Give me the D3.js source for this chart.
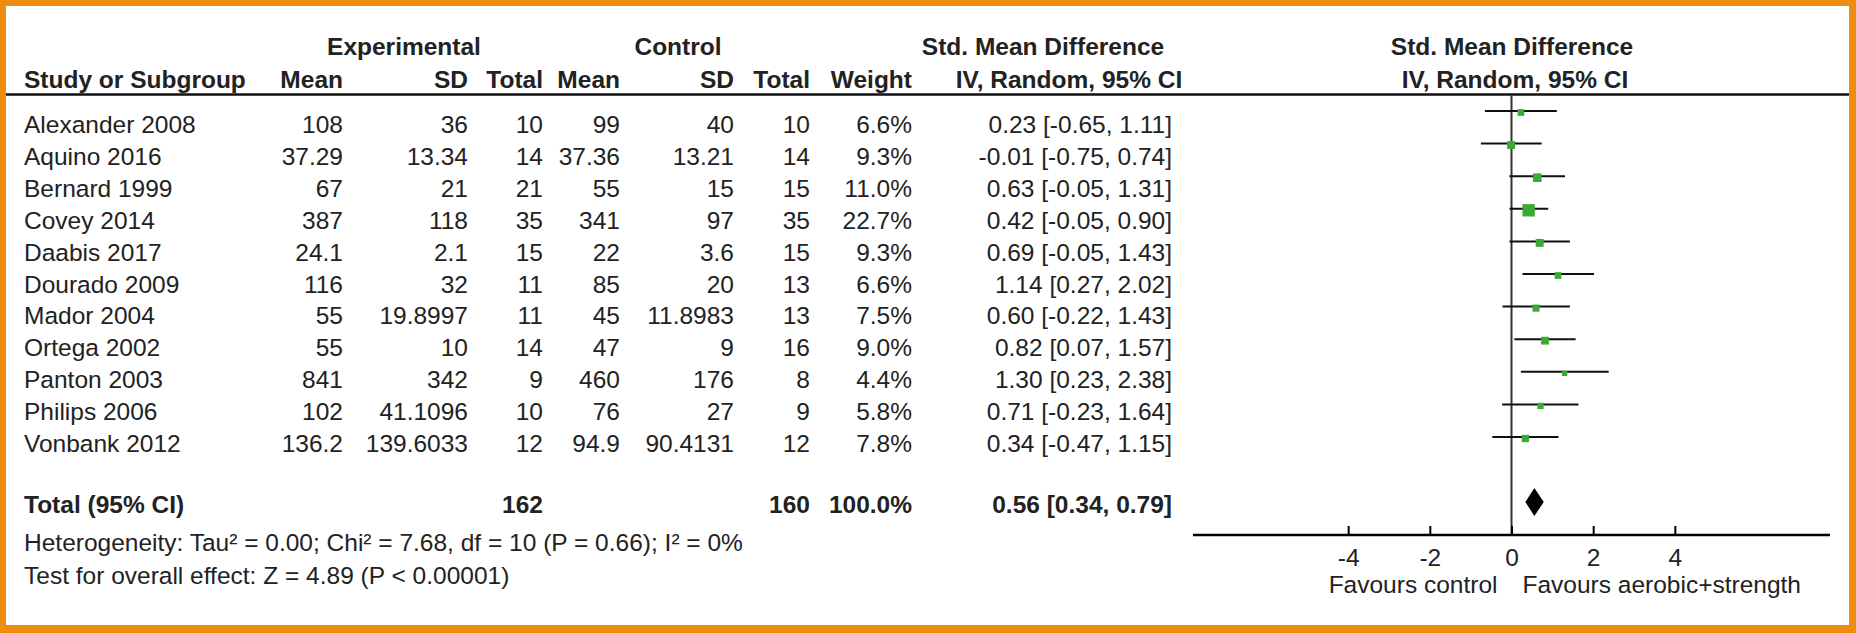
<!DOCTYPE html>
<html lang="en">
<head>
  <meta charset="UTF-8" />
  <title>Forest Plot</title>
  <script src="https://d3js.org/d3.v7.min.js"></script>
  <style>
    body { margin: 0; background: #fff; }
    svg text { font-family: "Liberation Sans", Arial, sans-serif; fill: #222; }
  </style>
</head>
<body>
  <svg id="chart" width="1856" height="633"></svg>

  <script>
    const studies = ["Alexander 2008", "Aquino 2016", "Bernard 1999", "Covey 2014", "Daabis 2017",
      "Dourado 2009", "Mador 2004", "Ortega 2002", "Panton 2003", "Philips 2006", "Vonbank 2012"];
    const expMean = [108, 37.29, 67, 387, 24.1, 116, 55, 55, 841, 102, 136.2];
    const expSD = [36, 13.34, 21, 118, 2.1, 32, 19.8997, 10, 342, 41.1096, 139.6033];
    const expN = [10, 14, 21, 35, 15, 11, 11, 14, 9, 10, 12];
    const ctlMean = [99, 37.36, 55, 341, 22, 85, 45, 47, 460, 76, 94.9];
    const ctlSD = [40, 13.21, 15, 97, 3.6, 20, 11.8983, 9, 176, 27, 90.4131];
    const ctlN = [10, 14, 15, 35, 15, 13, 13, 16, 8, 9, 12];
    const weight = [6.6, 9.3, 11.0, 22.7, 9.3, 6.6, 7.5, 9.0, 4.4, 5.8, 7.8];
    const smd = [0.23, -0.01, 0.63, 0.42, 0.69, 1.14, 0.60, 0.82, 1.30, 0.71, 0.34];
    const ciLow = [-0.65, -0.75, -0.05, -0.05, -0.05, 0.27, -0.22, 0.07, 0.23, -0.23, -0.47];
    const ciHigh = [1.11, 0.74, 1.31, 0.90, 1.43, 2.02, 1.43, 1.57, 2.38, 1.64, 1.15];
    const total = { expN: 162, ctlN: 160, weight: 100.0, smd: 0.56, lo: 0.34, hi: 0.79 };
    const axisTicks = [-4, -2, 0, 2, 4];
    const notes = [
      "Heterogeneity: Tau\u00b2 = 0.00; Chi\u00b2 = 7.68, df = 10 (P = 0.66); I\u00b2 = 0%",
      "Test for overall effect: Z = 4.89 (P < 0.00001)"
    ];

    const svg = d3.select("#chart");
    const FS = 24.5;

    // orange frame
    svg.append("rect").attr("width", 1856).attr("height", 633).attr("fill", "#ef8d10");
    svg.append("rect").attr("x", 6).attr("y", 6).attr("width", 1843).attr("height", 619).attr("fill", "#fff");

    const rows = d3.range(studies.length);
    const yText = d3.scaleLinear().domain([0, 10]).range([133, 452]);
    const yPlot = d3.scaleLinear().domain([0, 10]).range([111, 437]);
    const x = d3.scaleLinear().domain([-7.8, 7.8]).range([1193, 1830]);

    // columns: right edge x, accessor
    const cols = [
      { x: 343, f: i => expMean[i] },
      { x: 468, f: i => expSD[i] },
      { x: 543, f: i => expN[i] },
      { x: 620, f: i => ctlMean[i] },
      { x: 734, f: i => ctlSD[i] },
      { x: 810, f: i => ctlN[i] },
      { x: 912, f: i => weight[i].toFixed(1) + "%" },
      { x: 1172, f: i => `${smd[i].toFixed(2)} [${ciLow[i].toFixed(2)}, ${ciHigh[i].toFixed(2)}]` }
    ];

    const head = svg.append("g").attr("font-weight", "bold").attr("font-size", FS);
    const addText = (g, tx, ty, s, anchor) =>
      g.append("text").attr("x", tx).attr("y", ty).attr("text-anchor", anchor).text(s);

    addText(head, 404, 55, "Experimental", "middle");
    addText(head, 678, 55, "Control", "middle");
    addText(head, 1043, 55, "Std. Mean Difference", "middle");
    addText(head, 1512, 55, "Std. Mean Difference", "middle");
    addText(head, 24, 88, "Study or Subgroup", "start");
    ["Mean", "SD", "Total", "Mean", "SD", "Total", "Weight"].forEach((s, k) => addText(head, cols[k].x, 88, s, "end"));
    addText(head, 1069, 88, "IV, Random, 95% CI", "middle");
    addText(head, 1515, 88, "IV, Random, 95% CI", "middle");

    svg.append("line").attr("x1", 6).attr("x2", 1849).attr("y1", 94.5).attr("y2", 94.5)
      .attr("stroke", "#111").attr("stroke-width", 2.5);

    // study rows
    const body = svg.append("g").attr("font-size", FS);
    body.selectAll("text.study").data(rows).enter().append("text")
      .attr("class", "study").attr("x", 24).attr("y", i => yText(i)).text(i => studies[i]);
    cols.forEach(c => {
      body.selectAll(null).data(rows).enter().append("text")
        .attr("x", c.x).attr("y", i => yText(i)).attr("text-anchor", "end").text(c.f);
    });

    // totals
    const totY = 513;
    const tot = svg.append("g").attr("font-weight", "bold").attr("font-size", FS);
    addText(tot, 24, totY, "Total (95% CI)", "start");
    addText(tot, cols[2].x, totY, total.expN, "end");
    addText(tot, cols[5].x, totY, total.ctlN, "end");
    addText(tot, cols[6].x, totY, total.weight.toFixed(1) + "%", "end");
    addText(tot, cols[7].x, totY, `${total.smd.toFixed(2)} [${total.lo.toFixed(2)}, ${total.hi.toFixed(2)}]`, "end");

    const nt = svg.append("g").attr("font-size", FS);
    notes.forEach((s, k) => addText(nt, 24, [551, 584][k], s, "start"));

    // forest plot
    const axisY = 535;
    const plot = svg.append("g");
    plot.append("line").attr("x1", x(0)).attr("x2", x(0)).attr("y1", 95).attr("y2", axisY)
      .attr("stroke", "#333").attr("stroke-width", 2);

    plot.selectAll("line.ci").data(rows).enter().append("line")
      .attr("class", "ci")
      .attr("x1", i => x(ciLow[i])).attr("x2", i => x(ciHigh[i]))
      .attr("y1", i => yPlot(i)).attr("y2", i => yPlot(i))
      .attr("stroke", "#111").attr("stroke-width", 2);

    const side = i => 2.6 * Math.sqrt(weight[i]);
    plot.selectAll("rect.sq").data(rows).enter().append("rect")
      .attr("class", "sq")
      .attr("x", i => x(smd[i]) - side(i) / 2)
      .attr("y", i => yPlot(i) + 1.5 - side(i) / 2)
      .attr("width", side).attr("height", side)
      .attr("fill", "#3aaa35");

    const dY = 502, dH = 14;
    plot.append("path")
      .attr("d", `M${x(total.lo)},${dY} L${x(total.smd)},${dY - dH} L${x(total.hi)},${dY} L${x(total.smd)},${dY + dH} Z`)
      .attr("fill", "#000");

    const axis = d3.axisBottom(x).tickValues(axisTicks).tickFormat(d => String(d)).tickSize(0).tickPadding(0);
    const ax = plot.append("g").attr("transform", `translate(0,${axisY})`).call(axis);
    ax.select(".domain").remove();
    ax.append("line").attr("x1", x.range()[0]).attr("x2", x.range()[1])
      .attr("stroke", "#000").attr("stroke-width", 2.5);
    ax.selectAll(".tick").append("line").attr("y1", -9).attr("y2", 1).attr("stroke", "#000").attr("stroke-width", 2);
    ax.selectAll(".tick text").attr("y", 31).attr("dy", 0).attr("font-size", FS)
      .attr("font-family", "Liberation Sans, Arial, sans-serif").attr("fill", "#222");

    const fav = plot.append("g").attr("font-size", FS);
    addText(fav, x(0) - 14, 593, "Favours control", "end");
    addText(fav, x(0) + 11, 593, "Favours aerobic+strength", "start");
  </script>
</body>
</html>
